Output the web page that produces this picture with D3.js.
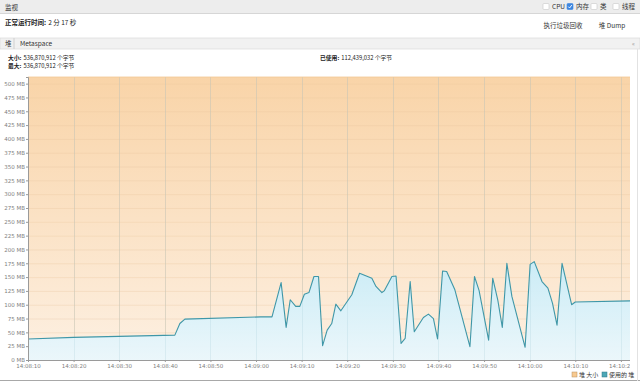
<!DOCTYPE html>
<html>
<head>
<meta charset="utf-8">
<script src="https://cdn.jsdelivr.net/npm/d3@7"></script>
<style>
  body { margin: 0; background: #fff; }
  svg { display: block; font-family: "Noto Sans CJK SC", "Noto Sans", sans-serif; }
</style>
</head>
<body>
<svg id="chart" width="640" height="382"></svg>
<script>
// seconds after 14:08:10 and used heap in MB
const usedSec = [0, 10, 32.2, 33.3, 34.4, 51, 53.5, 55.5, 56.6, 57.5, 58.7, 59.6, 60.6, 61.6, 62.7, 63.7,
  64.6, 65.6, 66.6, 67.5, 68.6, 71, 72.7, 75.4, 76.3, 77.6, 78.1, 79.8, 80.7, 81.8, 82.7, 83.8,
  84.7, 86.7, 87.8, 88.9, 89.8, 90.9, 91.8, 93.6, 96.9, 97.9, 98.9, 101, 101.9, 103, 104,
  105, 106.1, 109, 110.1, 111, 112.7, 114, 115, 116, 117.1, 119.2, 120, 132];
const usedMB = [38, 41, 45, 66, 74, 78, 78, 140, 59, 109, 97, 97, 119, 122, 151, 151,
  26, 54, 66, 101, 89, 118, 157, 148, 133, 122, 125, 151, 152, 30, 39, 142,
  51, 77, 83, 75, 38, 161, 160, 127, 24, 151, 126, 36, 148, 109, 59,
  175, 115, 23, 173, 178, 142, 130, 103, 63, 175, 100, 105, 107];
const heapSec = [0, 132];
const heapMB = [512, 512];
const yTicks = d3.range(0, 501, 25);

const svg = d3.select('#chart');
const t0 = new Date(2024, 0, 1, 14, 8, 10);
const toDate = s => new Date(+t0 + s * 1000);

const margin = { left: 28, top: 77, right: 10, bottom: 22 };
const W = 640, H = 382;
const pw = W - margin.left - margin.right;
const ph = H - margin.top - margin.bottom;

// label in bold followed by a plain value, as two separate texts
function labelled(xp, yp, label, value, fs) {
  const a = svg.append('text').attr('x', xp).attr('y', yp).attr('font-size', fs)
    .attr('font-weight', 'bold').attr('fill', '#222').text(label);
  const w = a.node().getComputedTextLength();
  svg.append('text').attr('x', xp + w + 2).attr('y', yp).attr('font-size', fs)
    .attr('fill', '#222').text(value);
}

// ---- window chrome ----
svg.append('rect').attr('x', 0).attr('y', 0).attr('width', W).attr('height', 13).attr('fill', '#ededed');
svg.append('line').attr('x1', 0).attr('x2', W).attr('y1', 13.5).attr('y2', 13.5).attr('stroke', '#d6d6d6');
svg.append('text').attr('x', 5).attr('y', 9.5).attr('font-size', 6.5).attr('fill', '#333').text('监视');

const checks = [
  { x: 543, label: 'CPU', on: false },
  { x: 567, label: '内存', on: true },
  { x: 591, label: '类', on: false },
  { x: 613, label: '线程', on: false }
];
checks.forEach(c => {
  svg.append('rect').attr('x', c.x).attr('y', 3.5).attr('width', 6).attr('height', 6).attr('rx', 1)
    .attr('fill', c.on ? '#3d86e0' : '#fff').attr('stroke', c.on ? '#3d86e0' : '#c8c8c8').attr('stroke-width', 0.6);
  if (c.on) {
    svg.append('path').attr('d', `M${c.x + 1.3},${6.6} L${c.x + 2.6},${8} L${c.x + 4.8},${5}`)
      .attr('fill', 'none').attr('stroke', '#fff').attr('stroke-width', 0.9);
  }
  svg.append('text').attr('x', c.x + 9).attr('y', 9.3).attr('font-size', 6.5).attr('fill', '#333').text(c.label);
});

labelled(5, 24.5, '正常运行时间:', '2 分 17 秒', 6.5);

svg.append('text').attr('x', 563).attr('y', 27.5).attr('font-size', 6.5).attr('fill', '#333')
  .attr('text-anchor', 'middle').text('执行垃圾回收');
svg.append('text').attr('x', 612).attr('y', 27.5).attr('font-size', 6.5).attr('fill', '#333')
  .attr('text-anchor', 'middle').text('堆 Dump');

// tab row
svg.append('rect').attr('x', 0).attr('y', 38).attr('width', W).attr('height', 11).attr('fill', '#f1f1f1')
  .attr('stroke', '#d9d9d9').attr('stroke-width', 0.7);
svg.append('line').attr('x1', 14).attr('x2', 14).attr('y1', 38).attr('y2', 49).attr('stroke', '#cfcfcf');
svg.append('text').attr('x', 5).attr('y', 46).attr('font-size', 6.5).attr('fill', '#333').text('堆');
svg.append('text').attr('x', 20).attr('y', 46).attr('font-size', 6.5).attr('fill', '#333').text('Metaspace');
svg.append('text').attr('x', 632).attr('y', 46).attr('font-size', 6).attr('fill', '#999').text('«');

labelled(8, 59.5, '大小:', '536,870,912 个字节', 5.8);
labelled(8, 68, '最大:', '536,870,912 个字节', 5.8);
labelled(320, 59.5, '已使用:', '112,439,032 个字节', 5.8);

// ---- chart ----
const x = d3.scaleTime().domain([toDate(0), toDate(132)]).range([0, pw]);
const y = d3.scaleLinear().domain([0, 512]).range([ph, 0]);

const defs = svg.append('defs');
const og = defs.append('linearGradient').attr('id', 'og').attr('x1', 0).attr('x2', 0).attr('y1', 0).attr('y2', 1);
og.append('stop').attr('offset', '0%').attr('stop-color', '#f9d4a8');
og.append('stop').attr('offset', '100%').attr('stop-color', '#fdf0e2');
const bg = defs.append('linearGradient').attr('id', 'bg').attr('gradientUnits', 'userSpaceOnUse')
  .attr('x1', 0).attr('x2', 0).attr('y1', y(180)).attr('y2', y(0));
bg.append('stop').attr('offset', '0%').attr('stop-color', '#c8ecf8');
bg.append('stop').attr('offset', '100%').attr('stop-color', '#eaf7fc');
defs.append('clipPath').attr('id', 'axclip').append('rect')
  .attr('x', -20).attr('y', 0).attr('width', pw + 20).attr('height', 20);

const g = svg.append('g').attr('transform', `translate(${margin.left},${margin.top})`);

const heap = heapSec.map((s, i) => ({ t: toDate(s), v: heapMB[i] }));
const used = usedSec.map((s, i) => ({ t: toDate(s), v: usedMB[i] }));

const area = d3.area().x(d => x(d.t)).y0(y(0)).y1(d => y(d.v));
const line = d3.line().x(d => x(d.t)).y(d => y(d.v));

g.append('path').datum(heap).attr('d', area).attr('fill', 'url(#og)');

// grid
const xTicks = x.ticks(d3.timeSecond.every(10));
g.append('g').selectAll('line').data(yTicks.slice(1)).join('line')
  .attr('x1', 0).attr('x2', pw).attr('y1', d => y(d) + 0.5).attr('y2', d => y(d) + 0.5)
  .attr('stroke', '#e8c29a').attr('stroke-opacity', 0.3);
g.append('g').selectAll('line').data(xTicks).join('line')
  .attr('x1', d => Math.round(x(d)) + 0.5).attr('x2', d => Math.round(x(d)) + 0.5)
  .attr('y1', 0).attr('y2', ph)
  .attr('stroke', '#e2bf98').attr('stroke-opacity', 0.45);

g.append('path').datum(used).attr('d', area).attr('fill', 'url(#bg)').attr('fill-opacity', 0.95);
// faint grid over the blue area
g.append('g').selectAll('line').data(xTicks).join('line')
  .attr('x1', d => Math.round(x(d)) + 0.5).attr('x2', d => Math.round(x(d)) + 0.5)
  .attr('y1', 0).attr('y2', ph)
  .attr('stroke', '#a9cfdc').attr('stroke-opacity', 0.25);
g.append('path').datum(used).attr('d', line).attr('fill', 'none')
  .attr('stroke', '#3f97a8').attr('stroke-width', 1.1).attr('stroke-linejoin', 'round');
g.append('path').datum(heap).attr('d', line).attr('fill', 'none')
  .attr('stroke', '#f3c894').attr('stroke-width', 0.8);

// axes
const yAxis = g.append('g').call(d3.axisLeft(y).tickValues(yTicks).tickSize(2).tickFormat(d => d + ' MB'));
yAxis.select('.domain').attr('stroke', '#9a9a9a');
yAxis.selectAll('.tick line').attr('stroke', '#9a9a9a');
yAxis.selectAll('.tick text').attr('font-size', 5.5).attr('fill', '#808080').attr('x', -3)
  .attr('font-family', '"DejaVu Sans", sans-serif');

const xAxisG = g.append('g').attr('transform', `translate(0,${ph})`);
const xAxis = xAxisG.append('g').attr('clip-path', 'url(#axclip)')
  .call(d3.axisBottom(x).ticks(d3.timeSecond.every(10)).tickSize(2).tickFormat(d3.timeFormat('%H:%M:%S')));
xAxis.select('.domain').attr('stroke', '#9a9a9a');
xAxis.selectAll('.tick line').attr('stroke', '#9a9a9a');
xAxis.selectAll('.tick text').attr('font-size', 5.5).attr('fill', '#808080').attr('y', 4)
  .attr('font-family', '"DejaVu Sans", sans-serif');

// legend
const legend = svg.append('g').attr('transform', 'translate(572,372)');
const items = [
  { label: '堆 大小', fill: '#f7c98f', stroke: '#b99160', x: 0 },
  { label: '使用的 堆', fill: '#4da7b6', stroke: '#2f7a86', x: 30 }
];
items.forEach(it => {
  legend.append('rect').attr('x', it.x).attr('y', 0).attr('width', 5).attr('height', 5)
    .attr('fill', it.fill).attr('stroke', it.stroke).attr('stroke-width', 0.5);
  legend.append('text').attr('x', it.x + 7).attr('y', 5).attr('font-size', 6).attr('fill', '#333').text(it.label);
});

// panel bottom and right edges
svg.append('line').attr('x1', 0).attr('x2', W).attr('y1', 380.5).attr('y2', 380.5).attr('stroke', '#a8a8a8');
svg.append('line').attr('x1', 637.5).attr('x2', 637.5).attr('y1', 49).attr('y2', 381).attr('stroke', '#e2e2e2');
</script>
</body>
</html>
